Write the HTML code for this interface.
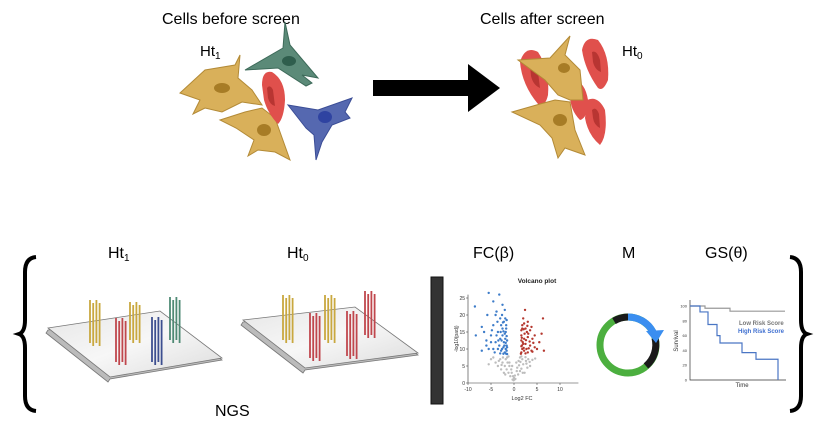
<!DOCTYPE html>
<html><head><meta charset="utf-8"><style>
html,body{margin:0;padding:0;background:#fff;}
svg{display:block;font-family:"Liberation Sans",sans-serif;}
</style></head><body>
<svg width="816" height="435" viewBox="0 0 816 435">
<defs>
<linearGradient id="slide" x1="0" y1="0" x2="1" y2="1"><stop offset="0" stop-color="#e6e6e6"/><stop offset="0.5" stop-color="#f7f7f7"/><stop offset="1" stop-color="#dcdcdc"/></linearGradient>
</defs>
<text x="162" y="24" font-size="16">Cells before screen</text>
<text x="200" y="56" font-size="15">Ht<tspan font-size="10" dy="3">1</tspan></text>
<text x="480" y="24" font-size="16">Cells after screen</text>
<text x="622" y="56" font-size="15">Ht<tspan font-size="10" dy="3">0</tspan></text>
<path d="M373 80 H468 V64 L500 88 L468 112 V96 H373 Z" fill="#000"/>

<g stroke-width="1">
<path d="M245 70 L283 48 L285 22 L290 45 L318 78 L302 75 L312 83 L306 86 L278 68 Z" fill="#5b8a78" stroke="#3d6a59"/>
<ellipse cx="289" cy="61" rx="7" ry="5" fill="#2f5e4d"/>
<path d="M180 93 L205 70 L235 65 L240 55 L238 78 L252 90 L262 105 L242 102 L222 112 L205 108 L193 114 L200 100 Z" fill="#d9b05a" stroke="#b38a36"/>
<ellipse cx="222" cy="88" rx="8" ry="5" fill="#a77c26"/>
<path d="M220 120 L245 112 L262 108 L275 118 L280 132 L290 160 L275 152 L258 150 L248 156 L254 140 L236 128 Z" fill="#d9b05a" stroke="#b38a36"/>
<ellipse cx="264" cy="130" rx="7" ry="6" fill="#a77c26"/>
<path d="M262 85 Q262 70 272 72 Q285 80 285 100 Q284 118 278 124 Q268 114 264 100 Z" fill="#e0504c"/>
<path d="M267 88 Q270 84 273 90 L275 106 Q270 105 268 98 Z" fill="#b83532"/>
<path d="M288 105 L318 110 L352 98 L345 112 L350 118 L332 125 L322 142 L316 160 L314 135 L306 128 Z" fill="#5568b0" stroke="#3b4d96"/>
<ellipse cx="325" cy="117" rx="7" ry="6" fill="#2f43a1"/>
</g>
<g>
<path d="M520 62 Q525 45 538 52 Q550 70 548 95 Q545 108 538 104 Q522 85 520 62 Z" fill="#e0504c"/>
<path d="M530 65 Q535 62 538 72 L540 88 Q533 85 531 76 Z" fill="#b83532"/>
<path d="M582 50 Q585 35 598 40 Q610 55 608 80 Q603 92 598 88 Q585 70 582 50 Z" fill="#e0504c"/>
<path d="M592 52 Q597 50 600 60 L601 72 Q595 70 593 62 Z" fill="#b83532"/>
<path d="M574 80 Q585 82 588 100 Q588 118 580 120 Q570 110 570 95 Z" fill="#e0504c"/>
<path d="M587 100 Q598 95 605 110 Q608 135 600 145 Q588 135 585 118 Z" fill="#e0504c"/>
<path d="M592 110 Q596 106 599 114 L600 128 Q594 125 593 118 Z" fill="#b83532"/>
<path d="M518 60 L550 58 L570 36 L565 55 L580 70 L583 100 L570 100 L558 95 L545 80 Z" fill="#d9b05a" stroke="#b38a36"/>
<ellipse cx="564" cy="68" rx="6" ry="5" fill="#a77c26"/>
<path d="M512 112 L540 104 L555 100 L570 102 L575 130 L585 155 L565 148 L558 158 L552 138 L540 125 Z" fill="#d9b05a" stroke="#b38a36"/>
<ellipse cx="560" cy="120" rx="7" ry="6" fill="#a77c26"/>
</g>

<text x="108" y="258" font-size="16">Ht<tspan font-size="10" dy="3">1</tspan></text>
<text x="287" y="258" font-size="16">Ht<tspan font-size="10" dy="3">0</tspan></text>
<text x="473" y="258" font-size="16">FC(β)</text>
<text x="622" y="258" font-size="16">M</text>
<text x="705" y="258" font-size="16">GS(θ)</text>
<text x="215" y="416" font-size="16">NGS</text>
<path d="M36 257 Q25 258 25 272 V320 Q25 332 19 334 Q25 336 25 348 V396 Q25 410 36 411" fill="none" stroke="#000" stroke-width="4"/>
<path d="M790 257 Q801 258 801 272 V320 Q801 332 807 334 Q801 336 801 348 V396 Q801 410 790 411" fill="none" stroke="#000" stroke-width="4"/>

<g>
<polygon points="48,330 160,313 222,360 110,379 108,382 46,333" fill="#bbb" stroke="#777" stroke-width="0.8"/>
<polygon points="48,328 160,311 222,358 110,377" fill="url(#slide)" stroke="#777" stroke-width="0.8"/>
</g>
<g>
<polygon points="243,322 355,309 418,355 305,370 303,373 241,325" fill="#bbb" stroke="#777" stroke-width="0.8"/>
<polygon points="243,320 355,307 418,353 305,368" fill="url(#slide)" stroke="#777" stroke-width="0.8"/>
</g>
<g id="bars"></g>

<rect x="431" y="277" width="12" height="127" fill="#333" stroke="#111"/>
<g id="volcano"></g>

<g fill="none" stroke-width="7">
<circle cx="628" cy="345" r="28" stroke="#4caf3f"/>
<path d="M614 321 A28 28 0 0 1 628 317" stroke="#1a1a1a"/>
<path d="M628 317 A28 28 0 0 1 653 332" stroke="#3a8ef0"/>
<path d="M655 338 A28 28 0 0 1 646 366" stroke="#1a1a1a"/>
<polygon points="646,331 664,330 656,343" fill="#3a8ef0" stroke="none"/>
</g>
<g id="surv"></g>
</svg>
<script>
var NS="http://www.w3.org/2000/svg";
function mk(t,a,p){var e=document.createElementNS(NS,t);for(var k in a)e.setAttribute(k,a[k]);p.appendChild(e);return e;}
var barGroups=[[90,300,343,"#c9a83f"],[116,318,362,"#c0474d"],[130,302,340,"#c9a83f"],[152,317,362,"#3d4f90"],[170,297,340,"#4f8a74"],
[283,295,340,"#c9a83f"],[310,313,358,"#c0474d"],[325,295,340,"#c9a83f"],[347,311,356,"#c0474d"],[365,291,335,"#c0474d"]];
var bg=document.getElementById('bars');
barGroups.forEach(function(b,i){
  var g=mk('g',{},bg);
  
  
  for(var j=0;j<4;j++){
    var x=b[0]+j*3.2, off=(j%2)*3;
    mk('line',{x1:x,y1:b[1]+off,x2:x,y2:b[2]+off,stroke:b[3],'stroke-width':1.8},g);
  }
});
var grayPts=[[-0.3,1],[0.3,1.2],[-0.8,2],[0.9,2.5],[-1.2,3],[1.3,3.5],[-1.6,4],[1.6,4.2],[-2,5],[2,5.5],[-2.5,6],[2.6,6.5],[-3,7],[3.1,7],[-3.5,5],[3.5,5],[-1,6],[1,6.5],[-1.5,7.5],[1.6,7.8],[-0.5,3],[0.6,3.5],[-2.2,3],[2.3,3],[-4,6],[4,6.8],[-1.8,7],[1.8,7],[-5,7],[0,1.5],
[-0.2,2],[0.2,2.2],[-0.6,4],[0.7,4.5],[-1,5],[1.1,5.2],[-1.4,6],[1.4,6.2],[-2.4,7.5],[2.5,7.6],[-3.3,6.5],[3.4,6.2],[-2.8,4],[2.9,4.5],[-4.5,7.5],[4.6,7.2],[-1.9,2.5],[1.9,3],[-0.4,5],[0.5,6],[-1.2,7.8],[1.3,7.5],[-2.7,5.3],[2.7,5.7],[-0.1,0.8],[0.1,1],[-5.5,5.5]];
var bluePts=[[-8.5,22.5],[-5.5,26.5],[-3.2,26],[-4.5,24],[-2.5,23],[-5.8,20],[-3.8,21],[-2,21.5],[-7,16.5],[-4.5,17],[-3,19],[-2.2,18],[-6.5,15],[-5,14],[-3.5,15],[-2.5,16],[-1.8,15],[-8.3,14],[-6,12.5],[-4,12],[-3,13],[-2.2,12],[-1.6,11],[-7,9.5],[-5.5,10],[-4.5,10],[-3.5,10],[-2.8,9.5],[-2,9],[-1.6,9.5],[-6,11],[-3.2,11],[-2.5,14],[-1.9,13],[-1.7,17],[-2.8,17],[-4.8,15.5],[-1.5,12.5],
[-1.5,8.5],[-1.8,10],[-2.3,10.5],[-1.6,13.8],[-2,14.5],[-1.7,16],[-2.4,17.8],[-1.9,19],[-2.6,20],[-1.6,18.5],[-2.1,11],[-2.7,12.5],[-3.4,12.5],[-1.5,10.5],[-2.9,15],[-3.8,14],[-4.2,9],[-3,8.7],[-2.3,8.6],[-1.7,8.6],[-5,12],[-3.6,18],[-4,20],[-2.3,15.2],[-1.8,11.8],[-2.6,10]];
var redPts=[[2.4,21.5],[6.3,19],[2,19],[3,18],[1.8,17],[2.5,16],[3.5,15.5],[6,14.5],[1.6,14],[2.2,13],[3,13.5],[4,13],[1.7,11],[2.5,11.5],[3.5,11],[4.5,10.5],[5,10],[6.5,9.5],[1.6,9],[2.2,9.5],[3,9],[4,9.2],[1.9,12],[2.8,15],[3.8,16.5],[2.1,10.3],[3.2,10.2],[5.5,12],[1.6,15.5],[2.6,12.6],
[1.5,8.6],[1.8,10],[2,11.5],[1.6,12.5],[2.3,14.5],[1.8,16],[2.2,17.5],[2.9,16.8],[3.4,12.2],[4.2,11.8],[2.7,10],[3.8,9.5],[1.7,13.3],[2.5,8.7],[3.1,14.5],[4.5,14],[2.1,15.8],[1.6,10.8]];
var vg=document.getElementById('volcano');
function vx(v){return 514+v*4.6;}
function vy(v){return 383-v*3.4;}
var t=mk('text',{x:537,y:283,'font-size':6.5,'font-weight':'bold','text-anchor':'middle',fill:'#222'},vg);t.textContent='Volcano plot';
mk('path',{d:'M'+vx(-10)+' '+vy(26)+' V'+vy(0)+' H'+vx(14),fill:'none',stroke:'#333','stroke-width':0.6},vg);
var xt=[-10,-5,0,5,10],yt=[0,5,10,15,20,25];
xt.forEach(function(v){mk('line',{x1:vx(v),x2:vx(v),y1:vy(0),y2:vy(0)+2,stroke:'#333','stroke-width':0.5},vg);var e=mk('text',{x:vx(v),y:vy(0)+8,'font-size':5,'text-anchor':'middle',fill:'#333'},vg);e.textContent=v;});
yt.forEach(function(v){mk('line',{x1:vx(-10),x2:vx(-10)-2,y1:vy(v),y2:vy(v),stroke:'#333','stroke-width':0.5},vg);var e=mk('text',{x:vx(-10)-3,y:vy(v)+2,'font-size':5,'text-anchor':'end',fill:'#333'},vg);e.textContent=v;});
var lx=mk('text',{x:vx(0)+8,y:vy(0)+17,'font-size':5.5,'text-anchor':'middle',fill:'#333'},vg);lx.textContent='Log2 FC';
var ly=mk('text',{x:0,y:0,'font-size':5,'text-anchor':'middle',fill:'#333',transform:'translate(458,'+vy(13)+') rotate(-90)'},vg);ly.textContent='-log10(padj)';
[[grayPts,'#bdbdbd'],[bluePts,'#3d7cc9'],[redPts,'#b5382f']].forEach(function(s){s[0].forEach(function(p){var c=mk('circle',{cx:vx(p[0]),cy:vy(p[1]),r:1.2,fill:s[1]},vg);});});
var lowT=[0,15,40,95],lowS=[100,97,93,93];
var highT=[0,10,18,27,30,52,66,88,88],highS=[100,92,75,60,50,37,28,28,0];
var sg=document.getElementById('surv');
function sx(v){return 690+v*1.0;}
function sy(v){return 380-v*0.74;}
mk('path',{d:'M690 300 V380 H786',fill:'none',stroke:'#333','stroke-width':0.7},sg);
[0,20,40,60,80,100].forEach(function(v){var e=mk('text',{x:687,y:sy(v)+1.5,'font-size':4,'text-anchor':'end',fill:'#333'},sg);e.textContent=v;});
function step(T,S){var d='M'+sx(T[0])+' '+sy(S[0]);for(var i=1;i<T.length;i++){d+=' H'+sx(T[i])+' V'+sy(S[i]);}return d;}
var l1=mk('path',{d:step(lowT,lowS),fill:'none',stroke:'#999','stroke-width':1.2},sg);
var l2=mk('path',{d:step(highT,highS),fill:'none',stroke:'#4a76c4','stroke-width':1.2},sg);
var a=mk('text',{x:739,y:325,'font-size':6,'font-weight':'bold',fill:'#777'},sg);a.textContent='Low Risk Score';
var b=mk('text',{x:738,y:333,'font-size':6,'font-weight':'bold',fill:'#3f6fd0'},sg);b.textContent='High Risk Score';
var c=mk('text',{x:742,y:387,'font-size':6,'text-anchor':'middle',fill:'#333'},sg);c.textContent='Time';
var d=mk('text',{x:0,y:0,'font-size':6,'text-anchor':'middle',fill:'#333',transform:'translate(678,341) rotate(-90)'},sg);d.textContent='Survival';
</script>
</body></html>
